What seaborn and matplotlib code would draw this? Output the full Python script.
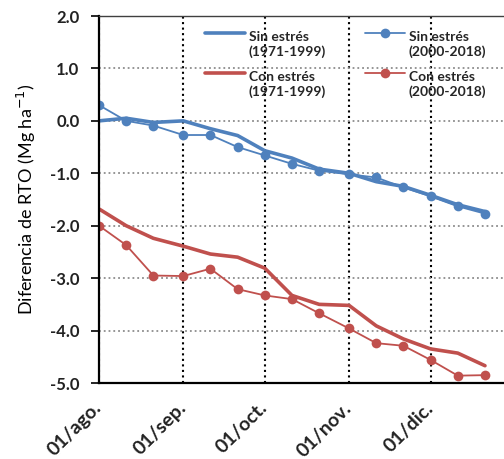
import numpy as np
import pandas as pd
import matplotlib
matplotlib.use("Agg")
import matplotlib.pyplot as plt
import seaborn as sns
from matplotlib.legend_handler import HandlerLine2D

# dekads from 1 Aug to 21 Dec
fechas = ["2019-08-01", "2019-08-11", "2019-08-21",
          "2019-09-01", "2019-09-11", "2019-09-21",
          "2019-10-01", "2019-10-11", "2019-10-21",
          "2019-11-01", "2019-11-11", "2019-11-21",
          "2019-12-01", "2019-12-11", "2019-12-21"]

sin_1971 = [0.00, 0.05, -0.03, 0.00, -0.15, -0.28, -0.57, -0.71, -0.92,
            -1.00, -1.16, -1.25, -1.42, -1.60, -1.73]
sin_2000 = [0.30, 0.00, -0.09, -0.27, -0.27, -0.50, -0.66, -0.82, -0.95,
            -1.02, -1.08, -1.27, -1.44, -1.63, -1.77]
con_1971 = [-1.68, -2.00, -2.24, -2.39, -2.54, -2.60, -2.81, -3.33, -3.50,
            -3.52, -3.91, -4.16, -4.35, -4.43, -4.67]
con_2000 = [-2.00, -2.37, -2.95, -2.96, -2.82, -3.21, -3.33, -3.40, -3.67,
            -3.96, -4.24, -4.29, -4.56, -4.86, -4.85]

mes_ticks = ["2019-08-01", "2019-09-01", "2019-10-01", "2019-11-01", "2019-12-01"]
mes_labels = ["01/ago.", "01/sep.", "01/oct.", "01/nov.", "01/dic."]
y_ticks = [2.0, 1.0, 0.0, -1.0, -2.0, -3.0, -4.0, -5.0]

azul = "#4F81BD"
rojo = "#C0504D"


# legend handle drawn level with the first line of a two-line label
class HandlerArriba(HandlerLine2D):
    def create_artists(self, legend, orig_handle, xdescent, ydescent,
                       width, height, fontsize, trans):
        arts = super().create_artists(legend, orig_handle, xdescent, ydescent,
                                      width, height, fontsize, trans)
        for a in arts:
            a.set_ydata(np.asarray(a.get_ydata()) + 0.85 * fontsize)
        return arts


sns.set_style("white")
plt.rcParams['font.family'] = ['Lato', 'DejaVu Sans']

fig = plt.figure(figsize=(5.04, 4.59), dpi=100)
ax = fig.add_axes([99 / 504, 1 - 383 / 459, 1 - 99 / 504, (383 - 16) / 459])

x = pd.to_datetime(fechas)
series = [
    (sin_1971, azul, 2.6, None, "Sin estrés\n(1971-1999)"),
    (con_1971, rojo, 2.6, None, "Con estrés\n(1971-1999)"),
    (sin_2000, azul, 1.3, "o", "Sin estrés\n(2000-2018)"),
    (con_2000, rojo, 1.3, "o", "Con estrés\n(2000-2018)"),
]
for vals, col, lw, mk, lab in series:
    df = pd.DataFrame({"fecha": x, "dif": vals})
    sns.lineplot(data=df, x="fecha", y="dif", ax=ax, color=col, linewidth=lw,
                 marker=mk, markersize=7, markeredgewidth=0, label=lab)

ax.set_xlim(pd.Timestamp("2019-08-01"), pd.Timestamp("2019-12-28"))
ax.set_ylim(-5.0, 2.0)
ax.set_yticks(y_ticks)
ax.set_yticklabels([f"{v:.1f}" for v in y_ticks], fontsize=12, fontweight="bold", color="#222222")
ax.set_xticks(pd.to_datetime(mes_ticks))
ax.set_xticklabels(mes_labels, rotation=45, ha="right", va="center", rotation_mode="anchor",
                   fontsize=14, fontweight="bold", color="#222222")
ax.tick_params(axis="x", length=0, pad=16)
ax.tick_params(axis="y", length=6, width=1.2, color="black", pad=8, direction="out", left=True)

ax.yaxis.grid(True, color="#8c8c8c", linestyle=":", linewidth=1.3)
ax.xaxis.grid(True, color="black", linestyle=":", linewidth=1.5)
ax.set_axisbelow(True)

for s in ["left", "bottom"]:
    ax.spines[s].set_color("black")
    ax.spines[s].set_linewidth(1.6)
ax.spines["top"].set_color("#404040")
ax.spines["top"].set_linewidth(1.0)
ax.spines["right"].set_visible(False)

ax.set_xlabel("")
ax.set_ylabel("Diferencia de RTO (Mg ha$^{-1}$)", fontsize=13, color="black", labelpad=9)

handles, labels = ax.get_legend_handles_labels()
leg = ax.legend(handles, labels, ncol=2, frameon=False, loc="upper left",
                bbox_to_anchor=(0.262, 0.958),
                handler_map={h: HandlerArriba() for h in handles},
                prop={"weight": "bold", "size": 10}, handlelength=2.9,
                handletextpad=0.25, columnspacing=2.8, labelspacing=0.95,
                borderpad=0, borderaxespad=0)
for t in leg.get_texts():
    t.set_multialignment("left")

fig.savefig("out.png", dpi=100)
